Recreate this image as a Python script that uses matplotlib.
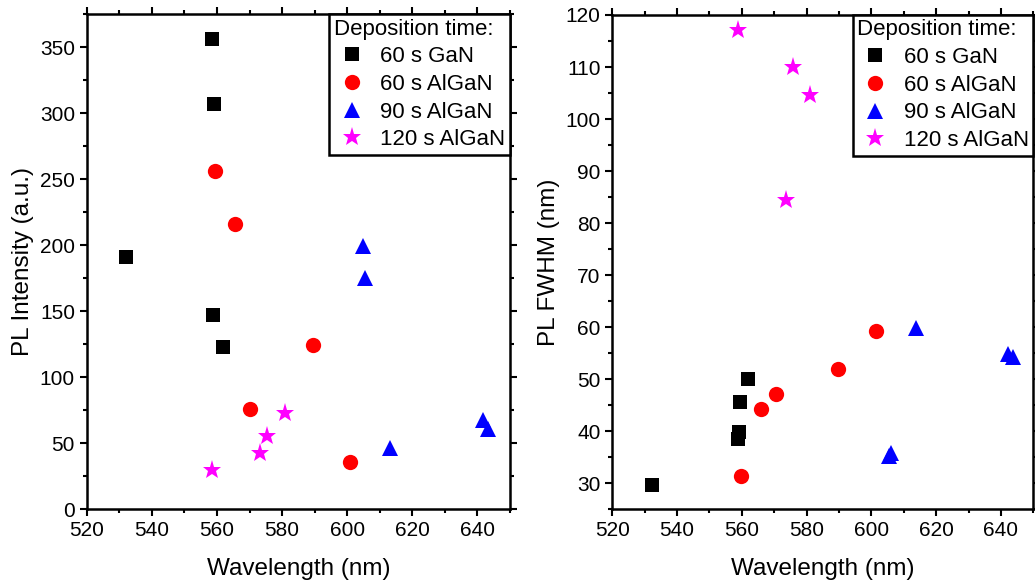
import numpy as np
import matplotlib.pyplot as plt
from matplotlib.ticker import MultipleLocator

plt.rcParams['font.family'] = ['Liberation Sans', 'DejaVu Sans']

labels = ['60 s GaN', '60 s AlGaN', '90 s AlGaN', '120 s AlGaN']

# PL intensity panel
int_gan_x = [558.5, 559.1, 532.0, 558.8, 561.7]
int_gan_y = [356, 307, 191, 147, 123]
int_a60_x = [559.5, 565.6, 589.4, 570.2, 600.9]
int_a60_y = [256, 216, 124.5, 76, 36]
int_a90_x = [604.9, 605.6, 613.1, 641.6, 643.1]
int_a90_y = [199.5, 175, 46, 67.5, 61]
int_a120_x = [558.6, 573.1, 575.4, 580.8]
int_a120_y = [29.5, 42.5, 55.5, 72.5]

# PL FWHM panel
fw_gan_x = [532.2, 558.8, 559.1, 559.4, 561.8]
fw_gan_y = [29.6, 38.4, 39.9, 45.7, 50.1]
fw_a60_x = [559.8, 566.0, 570.6, 589.7, 601.4]
fw_a60_y = [31.4, 44.2, 47.2, 51.9, 59.3]
fw_a90_x = [605.5, 606.0, 613.8, 642.2, 643.6]
fw_a90_y = [35.2, 35.9, 59.8, 54.8, 54.3]
fw_a120_x = [558.8, 575.7, 581.1, 573.7]
fw_a120_y = [117.2, 110.0, 104.6, 84.5]

styles = [('s', 'black', 9.5), ('o', 'red', 11), ('^', 'blue', 12), ('*', 'magenta', 14)]


def draw(ax, xs, ys, ylabel, ylim, ymajor, yminor):
    for (m, c, ms), x, y, lab in zip(styles, xs, ys, labels):
        ax.plot(x, y, linestyle='none', marker=m, color=c, markersize=ms,
                markeredgewidth=0, label=lab)
    ax.set_xlim(520, 650)
    ax.set_ylim(*ylim)
    ax.xaxis.set_major_locator(MultipleLocator(20))
    ax.xaxis.set_minor_locator(MultipleLocator(10))
    ax.yaxis.set_major_locator(MultipleLocator(ymajor))
    ax.yaxis.set_minor_locator(MultipleLocator(yminor))
    ax.tick_params(which='both', direction='out', top=True, right=True,
                   width=1.5, labelsize=15)
    ax.tick_params(which='major', length=5)
    ax.tick_params(which='minor', length=3)
    for s in ax.spines.values():
        s.set_linewidth(1.8)
    ax.set_xlabel('Wavelength (nm)', fontsize=17.5, labelpad=13)
    ax.set_ylabel(ylabel, fontsize=17.5, labelpad=4)
    leg = ax.legend(loc='upper right', title='Deposition time:', fontsize=16,
                    title_fontsize=16, fancybox=False, borderaxespad=0,
                    handletextpad=0.5, labelspacing=0.3, borderpad=0.2,
                    handlelength=1.6, alignment='left')
    leg.get_frame().set_edgecolor('black')
    leg.get_frame().set_linewidth(1.8)
    leg.get_frame().set_alpha(1)


fig = plt.figure(figsize=[10.35, 5.88], dpi=100)
ax1 = fig.add_axes([0.0838, 0.134, 0.409, 0.842])
ax2 = fig.add_axes([0.5916, 0.134, 0.4068, 0.8405])

draw(ax1, [int_gan_x, int_a60_x, int_a90_x, int_a120_x],
     [int_gan_y, int_a60_y, int_a90_y, int_a120_y],
     'PL Intensity (a.u.)', (0, 375), 50, 25)
draw(ax2, [fw_gan_x, fw_a60_x, fw_a90_x, fw_a120_x],
     [fw_gan_y, fw_a60_y, fw_a90_y, fw_a120_y],
     'PL FWHM (nm)', (25, 120), 10, 5)

fig.savefig('out.png', dpi=100)
